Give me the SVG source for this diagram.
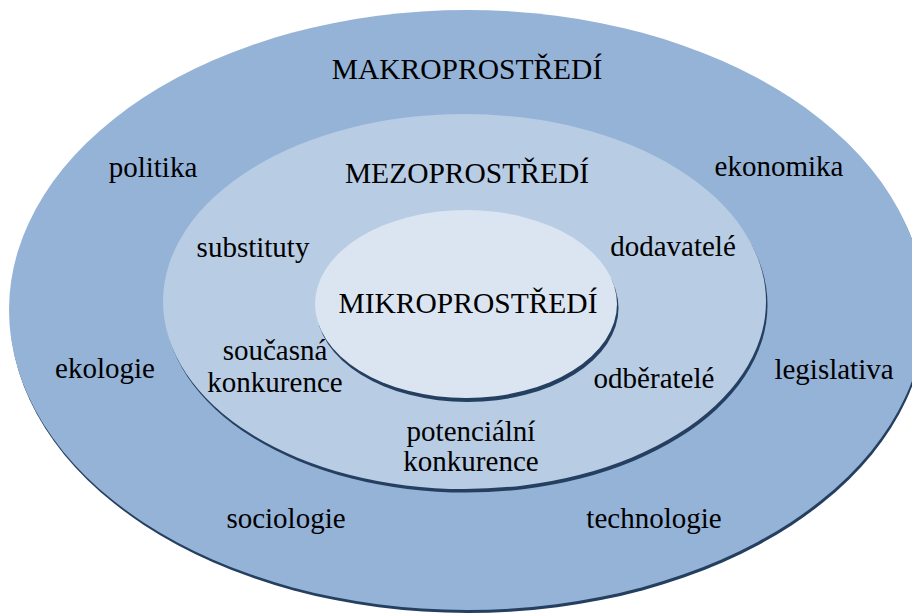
<svg xmlns="http://www.w3.org/2000/svg" width="912" height="615" viewBox="0 0 912 615">
<style>
.sh{fill:#243f60}
.t{font-family:"Liberation Serif","Times New Roman",serif;font-size:29px;fill:#000;text-anchor:middle}
.c{font-size:29.5px}
</style>
<rect width="912" height="615" fill="#fff"/>
<g id="makro">
<ellipse class="sh" cx="468" cy="313" rx="458" ry="300"/>
<ellipse cx="467" cy="310" rx="458" ry="300" fill="#95b3d7"/>
<text class="t c" x="467" y="79">MAKROPROSTŘEDÍ</text>
<text class="t" x="153" y="177">politika</text>
<text class="t" x="779" y="176">ekonomika</text>
<text class="t" x="105" y="378">ekologie</text>
<text class="t" x="834" y="379">legislativa</text>
<text class="t" x="286" y="528">sociologie</text>
<text class="t" x="654" y="528">technologie</text>
</g>
<g id="mezo">
<ellipse class="sh" cx="466" cy="305" rx="301.5" ry="187.5"/>
<ellipse cx="464.5" cy="301.5" rx="301.5" ry="187.5" fill="#b8cce4"/>
<text class="t c" x="467" y="183">MEZOPROSTŘEDÍ</text>
<text class="t" x="253" y="257">substituty</text>
<text class="t" x="673" y="256">dodavatelé</text>
<text class="t" x="275" y="360">současná</text>
<text class="t" x="275" y="392">konkurence</text>
<text class="t" x="654" y="388">odběratelé</text>
<text class="t" x="471" y="441">potenciální</text>
<text class="t" x="471" y="471">konkurence</text>
</g>
<g id="mikro">
<ellipse class="sh" cx="467.5" cy="308" rx="151" ry="94"/>
<ellipse cx="466" cy="304" rx="151" ry="94" fill="#dbe5f1"/>
<text class="t c" x="468" y="313">MIKROPROSTŘEDÍ</text>
</g>
<g id="connectors"/>
</svg>
